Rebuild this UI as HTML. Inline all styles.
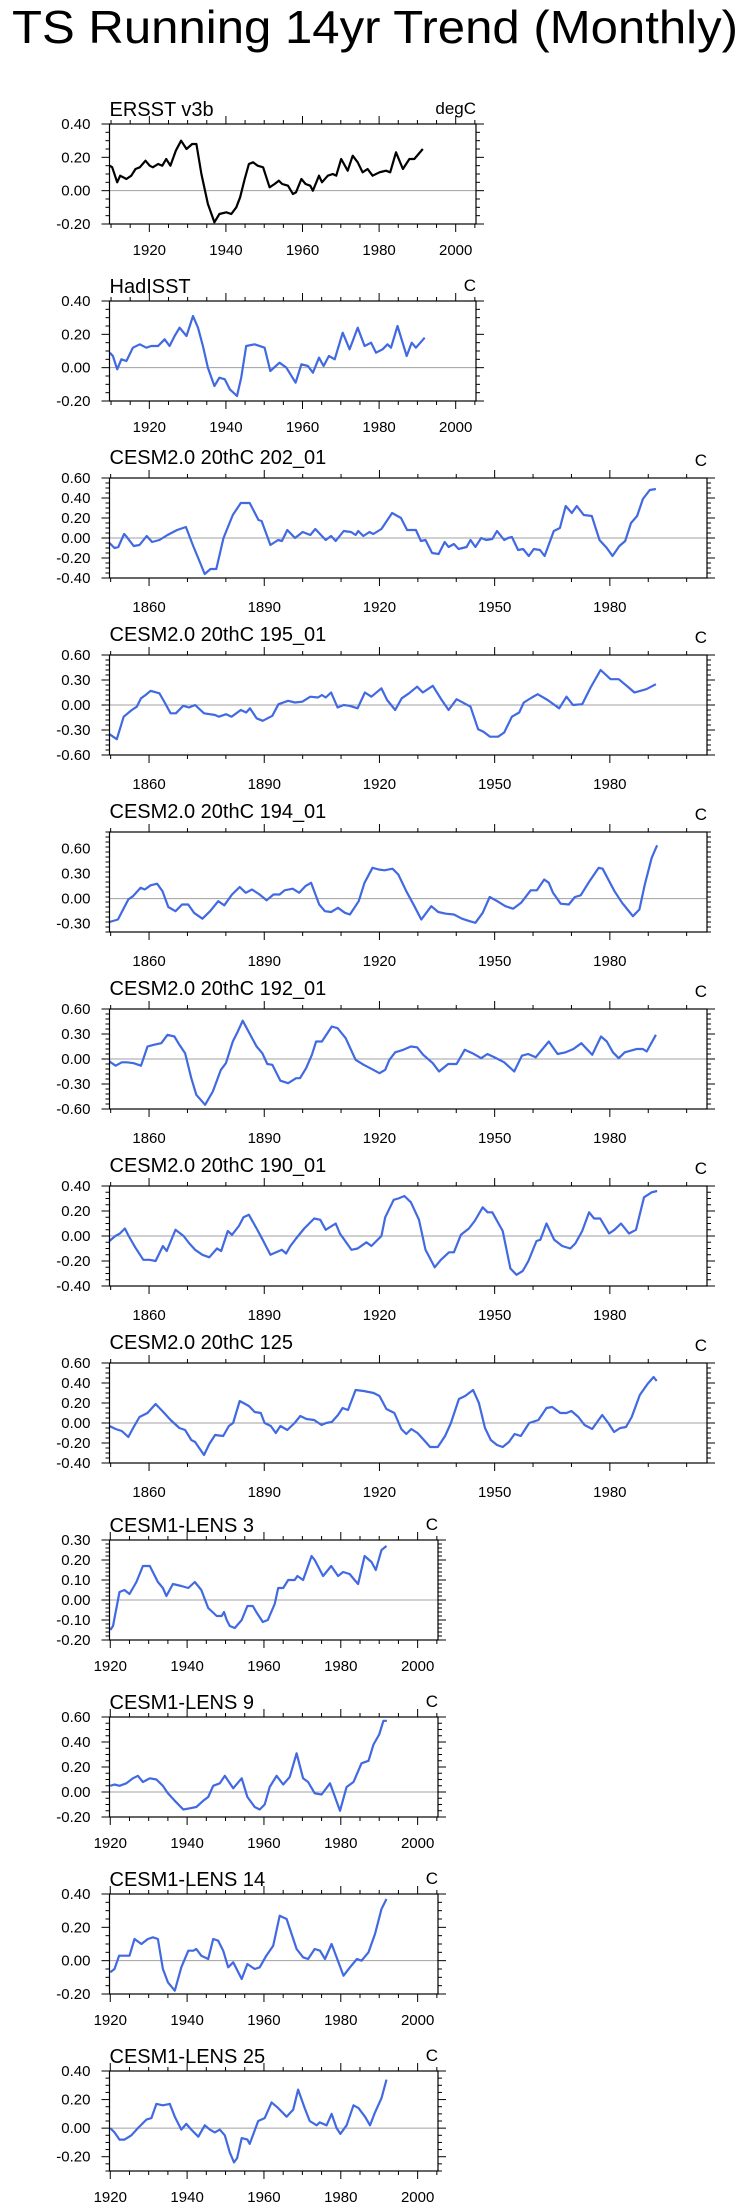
<!DOCTYPE html>
<html><head><meta charset="utf-8"><style>
html,body{margin:0;padding:0;background:#fff;}
svg{display:block;font-family:"Liberation Sans",Arial,sans-serif;}
</style></head><body>
<svg id="chart" xmlns="http://www.w3.org/2000/svg" width="746" height="2211" viewBox="0 0 746 2211">
<rect x="0" y="0" width="746" height="2211" fill="#fff"/>
<text x="12" y="43" font-size="46" textLength="726" lengthAdjust="spacingAndGlyphs">TS Running 14yr Trend (Monthly)</text>
</svg>
<script>
const ersstYears=[1909.7,1910.3,1911.6,1912.4,1914,1915.3,1916.4,1917.5,1919,1920.1,1920.9,1922.3,1923.4,1924.4,1925.5,1926.9,1928.3,1929.7,1931.2,1932.3,1933.6,1935.3,1937,1938.3,1940.1,1941.4,1942.7,1943.7,1944.9,1946,1947.1,1948.3,1949.7,1951.4,1952.7,1953.8,1954.7,1956.2,1957.5,1958.3,1959.7,1960.8,1962,1962.7,1964.3,1965.1,1966.6,1967.9,1968.8,1970.1,1971.8,1973.1,1974.4,1975.7,1977,1978.3,1980.1,1981.8,1982.9,1984.4,1986.2,1987.9,1989.2,1991.4];
const ersstVals=[0.15,0.14,0.05,0.09,0.07,0.09,0.13,0.14,0.18,0.15,0.14,0.16,0.15,0.19,0.15,0.24,0.30,0.25,0.28,0.28,0.10,-0.08,-0.19,-0.14,-0.13,-0.14,-0.10,-0.04,0.07,0.16,0.17,0.15,0.14,0.02,0.04,0.06,0.04,0.03,-0.02,-0.01,0.07,0.04,0.03,0.00,0.09,0.05,0.09,0.10,0.09,0.19,0.12,0.21,0.17,0.11,0.13,0.09,0.11,0.12,0.11,0.23,0.13,0.19,0.19,0.25];
const hadYears=[1909.7,1910.5,1911.6,1912.7,1914,1915.7,1917.5,1919.2,1920.5,1922.3,1924,1925.3,1926.6,1927.9,1929.7,1931.4,1932.7,1934,1935.3,1937,1938.3,1939.7,1941,1942.9,1944,1945.3,1947.5,1950.1,1951.6,1954,1955.8,1958.2,1959.7,1961.4,1962.7,1964.3,1965.5,1966.9,1968.4,1970.5,1972.3,1974.4,1976.2,1977.9,1979.2,1980.9,1982.2,1983.1,1984.8,1987.2,1988.5,1989.6,1991.9];
const hadVals=[0.09,0.07,-0.01,0.05,0.04,0.12,0.14,0.12,0.13,0.13,0.17,0.13,0.19,0.24,0.19,0.31,0.24,0.13,0.00,-0.11,-0.06,-0.07,-0.13,-0.17,-0.06,0.13,0.14,0.12,-0.02,0.03,0.00,-0.09,0.02,0.01,-0.03,0.06,0.01,0.07,0.05,0.21,0.11,0.24,0.13,0.15,0.09,0.11,0.14,0.12,0.25,0.07,0.15,0.12,0.18];
const c202Years=[1849.7,1851,1852,1853.5,1854,1856,1857.5,1859.4,1860.8,1862.7,1864.8,1867.3,1869.6,1871.5,1873,1874.5,1876,1877.5,1879.4,1881.8,1883.9,1886.2,1888.5,1889.3,1891.6,1893.6,1894.6,1896,1898,1900,1902,1903.3,1906,1907.4,1908.6,1910.7,1912.6,1913.8,1914.5,1915.8,1917.4,1918.4,1920.5,1923.3,1925.6,1927.2,1929.5,1930.8,1932,1933.7,1935.4,1937,1938,1939.4,1940.6,1942.7,1943.7,1945,1946.5,1947.8,1949.4,1950.6,1952.5,1953.5,1954.5,1956.1,1957.4,1958.9,1960.2,1961.8,1963,1965.4,1967,1968.5,1970.1,1971.4,1973.2,1975.3,1977.3,1979.2,1980.7,1982.5,1984,1985.5,1987.1,1988.6,1990.4,1992];
const c202Vals=[-0.05,-0.10,-0.09,0.04,0.02,-0.08,-0.07,0.02,-0.04,-0.02,0.03,0.08,0.11,-0.08,-0.22,-0.36,-0.31,-0.31,0.00,0.23,0.35,0.35,0.18,0.17,-0.07,-0.02,-0.03,0.08,0.00,0.06,0.03,0.09,-0.02,0.02,-0.03,0.07,0.06,0.03,0.07,0.02,0.06,0.04,0.09,0.25,0.20,0.08,0.08,-0.03,-0.02,-0.15,-0.16,-0.04,-0.09,-0.06,-0.11,-0.09,-0.02,-0.09,0.00,-0.02,-0.01,0.07,-0.02,0.00,0.01,-0.12,-0.11,-0.18,-0.11,-0.12,-0.18,0.07,0.10,0.32,0.25,0.32,0.23,0.22,-0.02,-0.10,-0.18,-0.08,-0.03,0.15,0.22,0.39,0.48,0.49];
const c195Years=[1849.7,1851.6,1853.4,1855.5,1856.8,1857.9,1859.1,1860.4,1862.7,1863.7,1865.6,1867,1868.9,1870.4,1872,1874.3,1877.2,1878.2,1880.1,1881.5,1883.9,1885.3,1886.3,1888,1889.6,1892.1,1893.7,1896.2,1898,1899.9,1902,1904,1905,1906,1907.4,1909.1,1910.7,1912.2,1914.3,1916.2,1917.9,1920.5,1922,1924.1,1925.8,1927.7,1929.8,1931.3,1933.9,1936.2,1938,1940.1,1942.1,1943.7,1945.7,1947.1,1948.8,1950.9,1952.5,1954.5,1956.4,1957.6,1959.7,1961.2,1963.8,1966.8,1968.7,1970.4,1972.8,1975,1977.6,1980.2,1982.3,1984.9,1986.4,1989.5,1992];
const c195Vals=[-0.35,-0.41,-0.14,-0.06,-0.02,0.08,0.12,0.17,0.14,0.06,-0.10,-0.10,-0.01,-0.03,0.00,-0.10,-0.12,-0.14,-0.11,-0.14,-0.06,-0.09,-0.04,-0.16,-0.19,-0.13,0.01,0.05,0.03,0.04,0.10,0.09,0.12,0.09,0.15,-0.03,0.00,-0.01,-0.04,0.15,0.10,0.20,0.06,-0.06,0.08,0.14,0.22,0.15,0.23,0.06,-0.06,0.07,0.02,-0.02,-0.29,-0.32,-0.38,-0.38,-0.33,-0.14,-0.09,0.03,0.09,0.13,0.06,-0.04,0.10,0.00,0.01,0.21,0.42,0.31,0.31,0.21,0.15,0.19,0.25];
const c194Years=[1849.7,1851.9,1853,1854.6,1855.8,1857.8,1858.9,1860.4,1862.1,1863.5,1865,1866.9,1868.6,1870.2,1871.7,1873.9,1875.9,1878,1879.6,1881.6,1883.6,1885.2,1886.8,1888.8,1890.6,1892.4,1894,1895.3,1897.4,1899.1,1900.7,1902.2,1904.3,1905.8,1907.4,1909.2,1911,1912.3,1914.6,1916.1,1918.2,1919.8,1921.3,1923.4,1924.9,1927,1929.1,1930.9,1932.2,1933.5,1935.3,1937.3,1939.4,1941.5,1943.5,1945,1946.9,1948.7,1950.7,1952.8,1954.8,1956.9,1959.4,1961,1962.9,1964.1,1965.2,1967.2,1969.3,1970.9,1972.4,1974.7,1977.1,1978.1,1979.6,1981.2,1983.2,1984.6,1986,1987.7,1989.1,1990.9,1992.3];
const c194Vals=[-0.28,-0.25,-0.15,-0.01,0.03,0.13,0.11,0.16,0.18,0.09,-0.10,-0.15,-0.07,-0.07,-0.17,-0.24,-0.15,-0.03,-0.08,0.05,0.14,0.07,0.11,0.05,-0.02,0.05,0.05,0.10,0.12,0.07,0.15,0.19,-0.07,-0.15,-0.16,-0.11,-0.17,-0.19,-0.03,0.19,0.37,0.35,0.34,0.36,0.29,0.09,-0.09,-0.25,-0.17,-0.09,-0.16,-0.18,-0.19,-0.24,-0.27,-0.29,-0.17,0.02,-0.03,-0.09,-0.12,-0.05,0.10,0.10,0.23,0.19,0.07,-0.06,-0.07,0.02,0.04,0.21,0.37,0.36,0.23,0.09,-0.05,-0.13,-0.21,-0.13,0.17,0.49,0.64];
const c192Years=[1849.7,1851.3,1852.9,1854.2,1856,1857.9,1859.6,1861.2,1863.2,1864.8,1866.6,1867.9,1869.4,1871,1872.3,1874.6,1876.6,1878.7,1880,1881.8,1883.1,1884.4,1885.9,1888,1889.5,1890.8,1892.1,1894.2,1896.2,1898.3,1899.3,1900.9,1902.4,1903.5,1905,1907.6,1909.1,1911.2,1913.8,1915.9,1917.6,1920,1921.5,1922.6,1924.1,1926.2,1928.2,1929.8,1931.4,1933.9,1935.5,1937.9,1940.1,1942.2,1944.2,1946.5,1948.1,1949.9,1952.5,1955.1,1957.1,1958.7,1960.7,1962.3,1964.1,1966.4,1968.5,1970.5,1972.6,1975.4,1977.7,1979.2,1980.8,1982.3,1983.9,1985.4,1987,1988.6,1989.6,1992];
const c192Vals=[-0.03,-0.08,-0.04,-0.04,-0.05,-0.08,0.15,0.17,0.19,0.29,0.27,0.17,0.07,-0.23,-0.43,-0.55,-0.39,-0.13,-0.05,0.21,0.33,0.46,0.33,0.15,0.07,-0.06,-0.07,-0.26,-0.29,-0.23,-0.23,-0.11,0.05,0.21,0.21,0.39,0.37,0.25,-0.01,-0.07,-0.11,-0.17,-0.13,-0.01,0.08,0.11,0.15,0.14,0.05,-0.05,-0.15,-0.06,-0.06,0.11,0.07,0.01,0.06,0.02,-0.04,-0.15,0.04,0.06,0.02,0.11,0.21,0.06,0.08,0.12,0.19,0.05,0.27,0.21,0.08,0.01,0.08,0.10,0.12,0.12,0.09,0.29];
const c190Years=[1849.7,1851.2,1852.4,1853.7,1854.7,1856.4,1858.5,1860.1,1861.7,1863.6,1864.6,1866.9,1869,1870.5,1872,1873.9,1875.7,1877.7,1878.8,1880.5,1881.6,1883.4,1884.6,1886,1888,1889.6,1891.6,1893.1,1894.6,1895.7,1896.8,1898.3,1900.4,1903,1904.6,1906,1908.6,1909.7,1912.7,1914.3,1916.6,1917.9,1920.5,1921.5,1923.7,1924.9,1926.5,1928.2,1930.3,1932,1934.4,1936,1938.1,1939.4,1941.2,1943.3,1944.8,1946.9,1948.2,1949.4,1952.1,1954.1,1955.7,1957.3,1958.8,1960.9,1961.9,1963.5,1965.5,1967.6,1969.7,1971,1972.8,1974.6,1975.9,1977.5,1979.8,1981.2,1982.9,1985,1986.8,1988.9,1990.9,1992.3];
const c190Vals=[-0.04,0.00,0.02,0.06,0.00,-0.09,-0.19,-0.19,-0.20,-0.08,-0.12,0.05,0.00,-0.06,-0.11,-0.15,-0.17,-0.10,-0.12,0.04,0.01,0.08,0.15,0.17,0.06,-0.03,-0.15,-0.13,-0.11,-0.14,-0.08,-0.02,0.06,0.14,0.13,0.05,0.10,0.02,-0.11,-0.10,-0.05,-0.08,0.00,0.15,0.29,0.30,0.32,0.27,0.13,-0.11,-0.25,-0.19,-0.13,-0.13,0.01,0.06,0.12,0.23,0.19,0.19,0.04,-0.26,-0.31,-0.28,-0.20,-0.04,-0.03,0.10,-0.03,-0.08,-0.10,-0.06,0.04,0.19,0.14,0.14,0.02,0.05,0.10,0.02,0.05,0.31,0.35,0.36];
const c125Years=[1849.7,1851.3,1852.9,1854.6,1856,1857.5,1859.6,1861.7,1863.7,1865.6,1867.9,1869.4,1871,1872,1874.3,1875.7,1877.2,1879.3,1880.8,1881.9,1883.6,1886,1887.5,1889.1,1890.1,1891.7,1893,1894.2,1896,1897.9,1899.4,1901,1903,1904.9,1906.1,1907.6,1909.2,1910.4,1911.8,1913.8,1915.9,1918.5,1920,1921.8,1923.9,1925.7,1927,1928.3,1929.9,1931.1,1933.2,1935.2,1937.1,1938.6,1940.7,1942.3,1944.4,1945.9,1947.5,1949,1950.6,1952.1,1953.7,1955.2,1956.8,1959,1961.4,1963.5,1965,1967.1,1968.7,1970,1971.8,1973.4,1975.4,1978,1979.6,1981.1,1982.7,1984.2,1985.7,1987.8,1989.8,1991.4,1992.2];
const c125Vals=[-0.03,-0.06,-0.08,-0.14,-0.04,0.06,0.10,0.19,0.11,0.03,-0.05,-0.07,-0.17,-0.19,-0.32,-0.21,-0.12,-0.13,-0.03,0.00,0.22,0.17,0.11,0.10,0.00,-0.03,-0.10,-0.03,-0.07,0.00,0.07,0.04,0.03,-0.02,0.00,0.01,0.08,0.15,0.13,0.33,0.32,0.30,0.27,0.14,0.10,-0.06,-0.11,-0.06,-0.10,-0.15,-0.24,-0.24,-0.13,0.00,0.24,0.27,0.33,0.20,-0.05,-0.17,-0.22,-0.24,-0.19,-0.11,-0.13,0.00,0.03,0.15,0.16,0.10,0.10,0.12,0.06,-0.02,-0.06,0.08,0.00,-0.09,-0.05,-0.04,0.06,0.28,0.39,0.46,0.42];
const lens3Years=[1920,1920.7,1922.4,1923.7,1925,1926.8,1928.5,1930.3,1932.4,1933.7,1934.6,1936.3,1938.5,1940.3,1942,1943.7,1945.5,1947.7,1949,1949.6,1950.3,1951.1,1952.4,1954.2,1955.7,1957.1,1958,1959.7,1961,1962.8,1963.7,1965,1966.3,1968,1968.7,1970.2,1972.4,1973.2,1975.4,1977.5,1979.3,1980.6,1982.3,1983.6,1984.5,1986.2,1988,1989.1,1990.6,1991.9];
const lens3Vals=[-0.15,-0.13,0.04,0.05,0.03,0.09,0.17,0.17,0.09,0.06,0.02,0.08,0.07,0.06,0.09,0.05,-0.04,-0.08,-0.08,-0.06,-0.10,-0.13,-0.14,-0.10,-0.03,-0.03,-0.06,-0.11,-0.10,-0.02,0.06,0.06,0.10,0.10,0.12,0.10,0.22,0.20,0.12,0.17,0.12,0.14,0.13,0.10,0.08,0.22,0.19,0.15,0.25,0.27];
const lens9Years=[1920,1921.1,1922.4,1924.2,1925.9,1927.2,1928.5,1930.3,1932,1933.7,1935,1936.8,1939,1940.7,1942.4,1944.2,1945.5,1946.8,1948.5,1949.8,1952,1954.2,1955.7,1957.6,1958.9,1960.2,1961.5,1963.3,1965,1966.7,1968.5,1970.2,1971.5,1973.2,1975,1977.2,1978.5,1979.8,1981.5,1983.3,1985.4,1987.2,1988.5,1990,1991.1,1992];
const lens9Vals=[0.05,0.06,0.05,0.07,0.11,0.13,0.08,0.11,0.10,0.05,-0.01,-0.07,-0.14,-0.13,-0.12,-0.07,-0.04,0.05,0.07,0.13,0.03,0.11,-0.04,-0.12,-0.14,-0.10,0.04,0.13,0.06,0.12,0.31,0.11,0.08,-0.01,-0.02,0.07,-0.04,-0.15,0.04,0.08,0.23,0.25,0.38,0.46,0.57,0.57];
const lens14Years=[1920,1921.1,1922.3,1923.7,1925,1926.3,1928.1,1929.8,1931.1,1932.4,1933.7,1935,1936.8,1938.5,1940.3,1941.6,1942.4,1943.7,1945.5,1946.8,1948.1,1949.4,1950.7,1952,1954.2,1955.7,1957.6,1958.9,1960.6,1962.4,1964.1,1965.9,1967.2,1968.5,1970.2,1971.5,1973.2,1974.6,1975.9,1977.6,1978.9,1980.7,1982.4,1984.2,1985.4,1987.2,1988.9,1990.6,1991.9];
const lens14Vals=[-0.07,-0.05,0.03,0.03,0.03,0.13,0.10,0.13,0.14,0.13,-0.05,-0.13,-0.18,-0.04,0.06,0.06,0.07,0.03,0.01,0.13,0.12,0.06,-0.04,-0.01,-0.11,-0.02,-0.05,-0.04,0.03,0.09,0.27,0.25,0.16,0.07,0.02,0.01,0.07,0.06,0.01,0.10,0.02,-0.09,-0.04,0.01,0.00,0.05,0.16,0.31,0.37];
const lens25Years=[1920,1921.1,1922.4,1923.7,1925.5,1927.2,1929.4,1930.7,1932,1933.7,1935.5,1936.8,1938.5,1939.8,1941.1,1942.9,1944.6,1945.9,1947.2,1948.5,1949.8,1951.1,1952.2,1953,1954.2,1955.7,1956.3,1958.5,1960.2,1962,1963.7,1965.9,1967.6,1968.9,1970.6,1971.9,1973.7,1974.5,1976.3,1977.6,1978.9,1979.9,1981.5,1983.3,1984.6,1986.3,1987.6,1988.9,1990.6,1991.9];
const lens25Vals=[0.00,-0.03,-0.08,-0.08,-0.05,0.00,0.06,0.07,0.17,0.16,0.17,0.08,-0.01,0.03,-0.01,-0.06,0.02,-0.01,-0.03,-0.01,-0.05,-0.17,-0.24,-0.21,-0.07,-0.08,-0.11,0.05,0.07,0.18,0.14,0.08,0.13,0.27,0.14,0.05,0.02,0.04,0.02,0.10,0.00,-0.04,0.02,0.16,0.14,0.08,0.02,0.11,0.21,0.34];

const BLUE='#4169e1';
const NARROW_R=476, WIDE_R=707, LENS_R=438, LEFT=109.5;
const panels=[
 {n:'ersst',title:'ERSST v3b',unit:'degC',xs:ersstYears,ys:ersstVals,x0:1909.6,x1:2005.3,r:NARROW_R,y0:-0.2,y1:0.4,st:0.2,mn:0.05,maj:20,min:5,col:'#000'},
 {n:'hadisst',title:'HadISST',unit:'C',xs:hadYears,ys:hadVals,x0:1909.6,x1:2005.3,r:NARROW_R,y0:-0.2,y1:0.4,st:0.2,mn:0.05,maj:20,min:5,col:BLUE},
 {n:'cesm2-202',title:'CESM2.0 20thC 202_01',unit:'C',xs:c202Years,ys:c202Vals,x0:1849.7,x1:2005.3,r:WIDE_R,y0:-0.4,y1:0.6,st:0.2,mn:0.05,maj:30,min:10,col:BLUE,wide:1},
 {n:'cesm2-195',title:'CESM2.0 20thC 195_01',unit:'C',xs:c195Years,ys:c195Vals,x0:1849.7,x1:2005.3,r:WIDE_R,y0:-0.6,y1:0.6,st:0.3,mn:0.06,maj:30,min:10,col:BLUE,wide:1},
 {n:'cesm2-194',title:'CESM2.0 20thC 194_01',unit:'C',xs:c194Years,ys:c194Vals,x0:1849.7,x1:2005.3,r:WIDE_R,y0:-0.4,y1:0.8,st:0.3,mn:0.06,maj:30,min:10,col:BLUE,wide:1},
 {n:'cesm2-192',title:'CESM2.0 20thC 192_01',unit:'C',xs:c192Years,ys:c192Vals,x0:1849.7,x1:2005.3,r:WIDE_R,y0:-0.6,y1:0.6,st:0.3,mn:0.06,maj:30,min:10,col:BLUE,wide:1},
 {n:'cesm2-190',title:'CESM2.0 20thC 190_01',unit:'C',xs:c190Years,ys:c190Vals,x0:1849.7,x1:2005.3,r:WIDE_R,y0:-0.4,y1:0.4,st:0.2,mn:0.05,maj:30,min:10,col:BLUE,wide:1},
 {n:'cesm2-125',title:'CESM2.0 20thC 125',unit:'C',xs:c125Years,ys:c125Vals,x0:1849.7,x1:2005.3,r:WIDE_R,y0:-0.4,y1:0.6,st:0.2,mn:0.05,maj:30,min:10,col:BLUE,wide:1},
 {n:'lens-3',title:'CESM1-LENS 3',unit:'C',xs:lens3Years,ys:lens3Vals,x0:1919.8,x1:2005.3,r:LENS_R,y0:-0.2,y1:0.3,st:0.1,mn:0.02,maj:20,min:5,col:BLUE},
 {n:'lens-9',title:'CESM1-LENS 9',unit:'C',xs:lens9Years,ys:lens9Vals,x0:1919.8,x1:2005.3,r:LENS_R,y0:-0.2,y1:0.6,st:0.2,mn:0.05,maj:20,min:5,col:BLUE},
 {n:'lens-14',title:'CESM1-LENS 14',unit:'C',xs:lens14Years,ys:lens14Vals,x0:1919.8,x1:2005.3,r:LENS_R,y0:-0.2,y1:0.4,st:0.2,mn:0.05,maj:20,min:5,col:BLUE},
 {n:'lens-25',title:'CESM1-LENS 25',unit:'C',xs:lens25Years,ys:lens25Vals,x0:1919.8,x1:2005.3,r:LENS_R,y0:-0.3,y1:0.4,st:0.2,mn:0.05,maj:20,min:5,col:BLUE}
];
const NS='http://www.w3.org/2000/svg';
const svg=document.getElementById('chart');
function mk(tag,attrs,parent){const e=document.createElementNS(NS,tag);for(const k in attrs)e.setAttribute(k,attrs[k]);(parent||svg).appendChild(e);return e;}
panels.forEach((p,i)=>{
  const top=124+177*i, H=100, bot=top+H, L=LEFT, R=p.r;
  const g=mk('g',{});
  
  
  const xs=v=>L+(v-p.x0)/(p.x1-p.x0)*(R-L);
  const ysc=v=>bot-(v-p.y0)/(p.y1-p.y0)*H;
  const z=mk('line',{x1:L,x2:R,y1:ysc(0),y2:ysc(0),stroke:'#a0a0a0','stroke-width':1},g);
  
  
  let d='';p.xs.forEach((x,k)=>{d+=(k?'L':'M')+xs(x).toFixed(1)+' '+ysc(p.ys[k]).toFixed(1);});
  const ln=mk('path',{d:d,fill:'none',stroke:p.col,'stroke-width':2.2,'stroke-linejoin':'round'},g);
  
  
  const bx=mk('rect',{x:L,y:top,width:R-L,height:H,fill:'none',stroke:'#000','stroke-width':1.2},g);
  
  
  const tg=mk('g',{stroke:'#000','stroke-width':1},g);
  
  
  const startMin=Math.ceil(p.x0/p.min)*p.min;
  for(let y=startMin;y<=p.x1+1e-6;y+=p.min){
    const isMaj=Math.abs(y/p.maj-Math.round(y/p.maj))<1e-6 && !(p.wide && y===1850);
    const len=isMaj?8:4, X=xs(y);
    mk('line',{x1:X,x2:X,y1:bot,y2:bot+len},tg);
    mk('line',{x1:X,x2:X,y1:top,y2:top-len},tg);
    if(isMaj){
      const t=mk('text',{x:X,y:bot+(p.wide?34:31),'font-size':15,'text-anchor':'middle'},g);
      
      
      t.textContent=String(y);
    }
  }
  const nm=Math.round((p.y1-p.y0)/p.mn);
  for(let k=0;k<=nm;k++){
    const v=p.y0+k*p.mn, Y=ysc(v);
    const isMaj=Math.abs(v/p.st-Math.round(v/p.st))<1e-6;
    const len=isMaj?8:4;
    mk('line',{x1:L,x2:L-len,y1:Y,y2:Y},tg);
    mk('line',{x1:R,x2:R+len,y1:Y,y2:Y},tg);
  }
  const s0=Math.ceil(p.y0/p.st-1e-6);
  for(let k=s0;k*p.st<=p.y1+1e-6;k++){
    const v=k*p.st;
    const t=mk('text',{x:L-19,y:ysc(v)+5,'font-size':15,'text-anchor':'end'},g);
    
    
    t.textContent=(Math.abs(v)<1e-9?0:v).toFixed(2);
  }
  const tt=mk('text',{x:L,y:top-(p.wide?14:8),'font-size':20},g);
  
  
  tt.textContent=p.title;
  const ut=mk('text',{x:R,y:top-(p.wide?12:10),'font-size':17,'text-anchor':'end'},g);
  
  
  ut.textContent=p.unit;
});
</script>
</body></html>
